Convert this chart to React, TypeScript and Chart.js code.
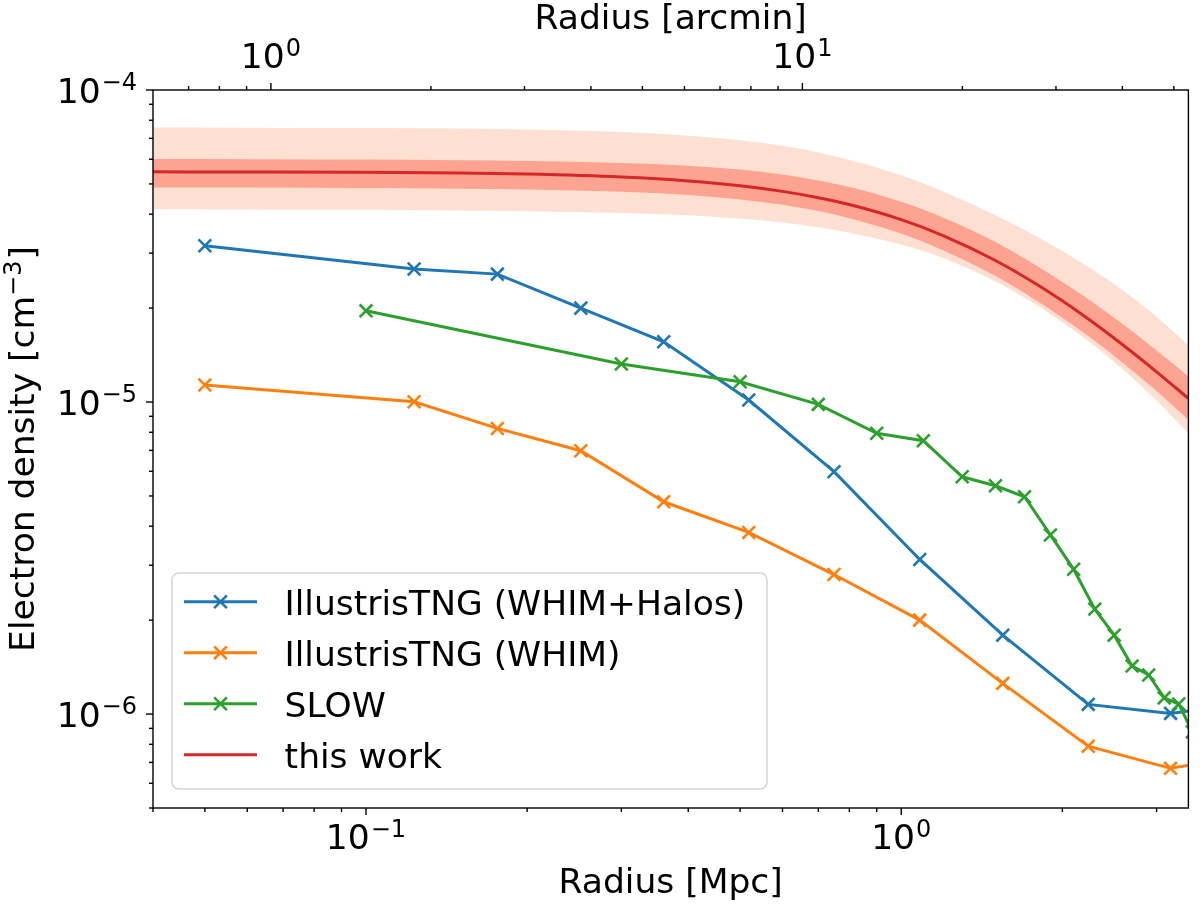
import { useEffect, useRef } from "react"
import Chart from "chart.js/auto"

// IllustrisTNG profiles (shared radii, Mpc)
const tngRadius = [0.05, 0.123, 0.176, 0.252, 0.36, 0.519, 0.749, 1.083, 1.548, 2.236, 3.186, 4.59]
const tngWhimHalos = [3.17e-5, 2.67e-5, 2.57e-5, 2.0e-5, 1.56e-5, 1.015e-5, 5.98e-6, 3.13e-6, 1.79e-6, 1.074e-6, 1.005e-6, 1.09e-6]
const tngWhim = [1.134e-5, 1.002e-5, 8.23e-6, 6.98e-6, 4.79e-6, 3.82e-6, 2.8e-6, 2.0e-6, 1.254e-6, 7.89e-7, 6.7e-7, 7.44e-7]

// SLOW
const slowRadius = [0.1, 0.3, 0.5, 0.7, 0.9, 1.1, 1.3, 1.5, 1.7, 1.9, 2.1, 2.3, 2.5, 2.7, 2.9, 3.1, 3.3, 3.5]
const slowDensity = [
  1.96e-5, 1.324e-5, 1.162e-5, 9.83e-6, 7.94e-6, 7.52e-6, 5.76e-6, 5.39e-6, 4.97e-6, 3.75e-6, 2.91e-6,
  2.17e-6, 1.79e-6, 1.425e-6, 1.334e-6, 1.127e-6, 1.077e-6, 8.77e-7,
]

// this work: best fit and the two uncertainty bands
const fitRadius = [0.04, 0.06, 0.1, 0.15, 0.2, 0.3, 0.4, 0.5, 0.6, 0.7, 0.8, 1.0, 1.2, 1.5, 1.8, 2.2, 2.6, 3.0, 3.44]
const fitDensity = [
  5.466e-5, 5.461e-5, 5.446e-5, 5.417e-5, 5.376e-5, 5.262e-5, 5.113e-5, 4.934e-5, 4.733e-5, 4.518e-5, 4.294e-5,
  3.841e-5, 3.41e-5, 2.842e-5, 2.37e-5, 1.884e-5, 1.521e-5, 1.25e-5, 1.027e-5,
]
const fitInnerHigh = [
  6.007e-5, 6.002e-5, 5.985e-5, 5.953e-5, 5.922e-5, 5.837e-5, 5.723e-5, 5.562e-5, 5.36e-5, 5.128e-5, 4.885e-5,
  4.38e-5, 3.897e-5, 3.256e-5, 2.721e-5, 2.178e-5, 1.771e-5, 1.462e-5, 1.209e-5,
]
const fitInnerLow = [
  4.872e-5, 4.867e-5, 4.854e-5, 4.828e-5, 4.802e-5, 4.722e-5, 4.61e-5, 4.458e-5, 4.287e-5, 4.092e-5, 3.88e-5,
  3.463e-5, 3.06e-5, 2.533e-5, 2.098e-5, 1.66e-5, 1.331e-5, 1.084e-5, 8.78e-6,
]
const fitOuterHigh = [
  7.58e-5, 7.573e-5, 7.553e-5, 7.53e-5, 7.473e-5, 7.331e-5, 7.14e-5, 6.906e-5, 6.624e-5, 6.309e-5, 5.982e-5,
  5.327e-5, 4.718e-5, 3.969e-5, 3.379e-5, 2.761e-5, 2.276e-5, 1.875e-5, 1.519e-5,
]
const fitOuterLow = [
  4.147e-5, 4.143e-5, 4.131e-5, 4.109e-5, 4.087e-5, 4.038e-5, 3.969e-5, 3.874e-5, 3.759e-5, 3.63e-5, 3.49e-5,
  3.195e-5, 2.889e-5, 2.436e-5, 2.036e-5, 1.6e-5, 1.268e-5, 1.011e-5, 7.94e-6,
]

// axes
const xMin = 0.04
const xMax = 3.44
const mpcPerArcmin = 0.0646
const yMin = 5e-7
const yMax = 1e-4

const xMajorTicks = [0.1, 1]
const xMajorExp = ["\u22121", "0"]
const xMinorTicks = [0.04, 0.05, 0.06, 0.07, 0.08, 0.09, 0.2, 0.3, 0.4, 0.5, 0.6, 0.7, 0.8, 0.9, 2, 3]
const topMajorTicks = [1, 10]
const topMajorExp = ["0", "1"]
const topMinorTicks = [0.7, 0.8, 0.9, 2, 3, 4, 5, 6, 7, 8, 9, 20, 30, 40, 50]
const yMajorTicks = [1e-4, 1e-5, 1e-6]
const yMajorExp = ["\u22124", "\u22125", "\u22126"]
const yMinorTicks = [
  5e-7, 6e-7, 7e-7, 8e-7, 9e-7, 2e-6, 3e-6, 4e-6, 5e-6, 6e-6, 7e-6, 8e-6, 9e-6,
  2e-5, 3e-5, 4e-5, 5e-5, 6e-5, 7e-5, 8e-5, 9e-5,
]

const FONT = '"DejaVu Sans"'
const SIZE = 34.5
const SUP = 24
const RAISE = 12.5

const BLUE = "#1f77b4"
const ORANGE = "#ff7f0e"
const GREEN = "#2ca02c"
const RED = "#d62728"

const pts = (xs: number[], ys: number[]) => xs.map((x, i) => ({ x, y: ys[i] }))

function drawPower(ctx: CanvasRenderingContext2D, exp: string, x: number, y: number, align: "center" | "right") {
  ctx.font = `${SIZE}px ${FONT}`
  const bw = ctx.measureText("10").width
  ctx.font = `${SUP}px ${FONT}`
  const ew = ctx.measureText(exp).width
  const total = bw + 1 + ew
  const x0 = align === "center" ? x - total / 2 : x - total
  ctx.textAlign = "left"
  ctx.textBaseline = "alphabetic"
  ctx.font = `${SIZE}px ${FONT}`
  ctx.fillText("10", x0, y)
  ctx.font = `${SUP}px ${FONT}`
  ctx.fillText(exp, x0 + bw + 1, y - RAISE)
}

const decorPlugin = {
  id: "decor",
  afterDraw(chart: any) {
    const ctx: CanvasRenderingContext2D = chart.ctx
    const { left, right, top, bottom } = chart.chartArea
    const xs = chart.scales.x
    const xt = chart.scales.x2
    const ys = chart.scales.y
    ctx.save()

    // spines
    ctx.strokeStyle = "#000"
    ctx.lineWidth = 1.4
    ctx.strokeRect(left, top, right - left, bottom - top)

    const line = (x1: number, y1: number, x2: number, y2: number) => {
      ctx.beginPath()
      ctx.moveTo(x1, y1)
      ctx.lineTo(x2, y2)
      ctx.stroke()
    }
    xMinorTicks.forEach((v) => { const p = xs.getPixelForValue(v); line(p, bottom, p, bottom + 4) })
    xMajorTicks.forEach((v) => { const p = xs.getPixelForValue(v); line(p, bottom, p, bottom + 7) })
    topMinorTicks.forEach((v) => { const p = xt.getPixelForValue(v); line(p, top, p, top - 4) })
    topMajorTicks.forEach((v) => { const p = xt.getPixelForValue(v); line(p, top, p, top - 7) })
    yMinorTicks.forEach((v) => { const p = ys.getPixelForValue(v); line(left, p, left - 4, p) })
    yMajorTicks.forEach((v) => { const p = ys.getPixelForValue(v); line(left, p, left - 7, p) })

    // tick labels
    ctx.fillStyle = "#000"
    xMajorTicks.forEach((v, i) => drawPower(ctx, xMajorExp[i], xs.getPixelForValue(v), bottom + 41, "center"))
    topMajorTicks.forEach((v, i) => drawPower(ctx, topMajorExp[i], xt.getPixelForValue(v), top - 22, "center"))
    yMajorTicks.forEach((v, i) => drawPower(ctx, yMajorExp[i], left - 16, ys.getPixelForValue(v) + 12.5, "right"))

    // axis titles
    const cx = (left + right) / 2
    ctx.font = `${SIZE}px ${FONT}`
    ctx.textAlign = "center"
    ctx.textBaseline = "alphabetic"
    ctx.fillText("Radius [Mpc]", cx, bottom + 85)
    ctx.fillText("Radius [arcmin]", cx, 29)

    ctx.save()
    ctx.translate(33.5, (top + bottom) / 2)
    ctx.rotate(-Math.PI / 2)
    const main = "Electron density [cm"
    const sup = "\u22123"
    ctx.font = `${SIZE}px ${FONT}`
    const mw = ctx.measureText(main).width
    const cw = ctx.measureText("]").width
    ctx.font = `${SUP}px ${FONT}`
    const sw = ctx.measureText(sup).width
    const x0 = -(mw + sw + cw + 1) / 2
    ctx.textAlign = "left"
    ctx.font = `${SIZE}px ${FONT}`
    ctx.fillText(main, x0, 0)
    ctx.font = `${SUP}px ${FONT}`
    ctx.fillText(sup, x0 + mw, -RAISE)
    ctx.font = `${SIZE}px ${FONT}`
    ctx.fillText("]", x0 + mw + sw + 1, 0)
    ctx.restore()

    // legend
    const entries = chart.data.datasets.filter((d: any) => d.label)
    const bx = 172
    const by = 573
    ctx.beginPath()
    ctx.roundRect(bx, by, 595, 216, 7)
    ctx.fillStyle = "rgba(255,255,255,0.8)"
    ctx.fill()
    ctx.strokeStyle = "rgba(204,204,204,0.8)"
    ctx.lineWidth = 1.5
    ctx.stroke()
    entries.forEach((d: any, i: number) => {
      const base = 615 + i * 51
      const ly = base - 13.3
      ctx.strokeStyle = d.borderColor
      ctx.lineWidth = 3
      line(184, ly, 257, ly)
      if (d.pointRadius > 0) {
        const h = d.pointRadius * Math.SQRT1_2
        ctx.lineWidth = d.pointBorderWidth
        line(220.5 - h, ly - h, 220.5 + h, ly + h)
        line(220.5 - h, ly + h, 220.5 + h, ly - h)
      }
      ctx.fillStyle = "#000"
      ctx.font = `${SIZE}px ${FONT}`
      ctx.textAlign = "left"
      ctx.fillText(d.label, 284.6, base)
    })
    ctx.restore()
  },
}

export default function App() {
  const canvasRef = useRef<HTMLCanvasElement>(null)
  const chartInstance = useRef<Chart | null>(null)

  useEffect(() => {
    if (!canvasRef.current) return
    if (chartInstance.current) chartInstance.current.destroy()

    // smooth curves for the fit and its bands
    const band = {
      borderColor: "rgba(0,0,0,0)",
      borderWidth: 0,
      pointRadius: 0,
      cubicInterpolationMode: "monotone" as const,
    }
    const marker = {
      borderWidth: 3,
      pointStyle: "crossRot" as const,
      pointRadius: 9,
      pointBorderWidth: 2.6,
      tension: 0,
      fill: false,
    }

    chartInstance.current = new Chart(canvasRef.current, {
      type: "line",
      data: {
        datasets: [
          { ...band, data: pts(fitRadius, fitOuterHigh), fill: "+1", backgroundColor: "rgb(254,224,210)", order: 6 },
          { ...band, data: pts(fitRadius, fitOuterLow), fill: false, order: 6 },
          { ...band, data: pts(fitRadius, fitInnerHigh), fill: "+1", backgroundColor: "rgb(252,164,145)", order: 5 },
          { ...band, data: pts(fitRadius, fitInnerLow), fill: false, order: 5 },
          {
            label: "IllustrisTNG (WHIM+Halos)",
            data: pts(tngRadius, tngWhimHalos),
            borderColor: BLUE,
            pointBorderColor: BLUE,
            ...marker,
            order: 3,
          },
          {
            label: "IllustrisTNG (WHIM)",
            data: pts(tngRadius, tngWhim),
            borderColor: ORANGE,
            pointBorderColor: ORANGE,
            ...marker,
            order: 2,
          },
          {
            label: "SLOW",
            data: pts(slowRadius, slowDensity),
            borderColor: GREEN,
            pointBorderColor: GREEN,
            ...marker,
            order: 1,
          },
          {
            label: "this work",
            data: pts(fitRadius, fitDensity),
            borderColor: RED,
            borderWidth: 3,
            pointRadius: 0,
            fill: false,
            cubicInterpolationMode: "monotone",
            order: 4,
          },
        ],
      },
      options: {
        animation: false,
        responsive: true,
        maintainAspectRatio: false,
        events: [],
        layout: { padding: { left: 0, right: 8, top: 0, bottom: 0 } },
        scales: {
          x: {
            type: "logarithmic",
            position: "bottom",
            min: xMin,
            max: xMax,
            ticks: { display: false },
            grid: { display: false },
            border: { display: false },
            afterFit: (s: any) => { s.height = 98 },
          },
          x2: {
            type: "logarithmic",
            position: "top",
            min: xMin / mpcPerArcmin,
            max: xMax / mpcPerArcmin,
            ticks: { display: false },
            grid: { display: false },
            border: { display: false },
            afterFit: (s: any) => { s.height = 90 },
          },
          y: {
            type: "logarithmic",
            min: yMin,
            max: yMax,
            ticks: { display: false },
            grid: { display: false },
            border: { display: false },
            afterFit: (s: any) => { s.width = 153 },
          },
        },
        plugins: {
          legend: { display: false },
          tooltip: { enabled: false },
        },
      },
      plugins: [decorPlugin],
    })

    return () => {
      if (chartInstance.current) {
        chartInstance.current.destroy()
        chartInstance.current = null
      }
    }
  }, [])

  return (
    <div style={{ width: 1200, height: 906, position: "relative" }}>
      <style>{"body{margin:0}"}</style>
      <canvas ref={canvasRef} />
    </div>
  )
}
